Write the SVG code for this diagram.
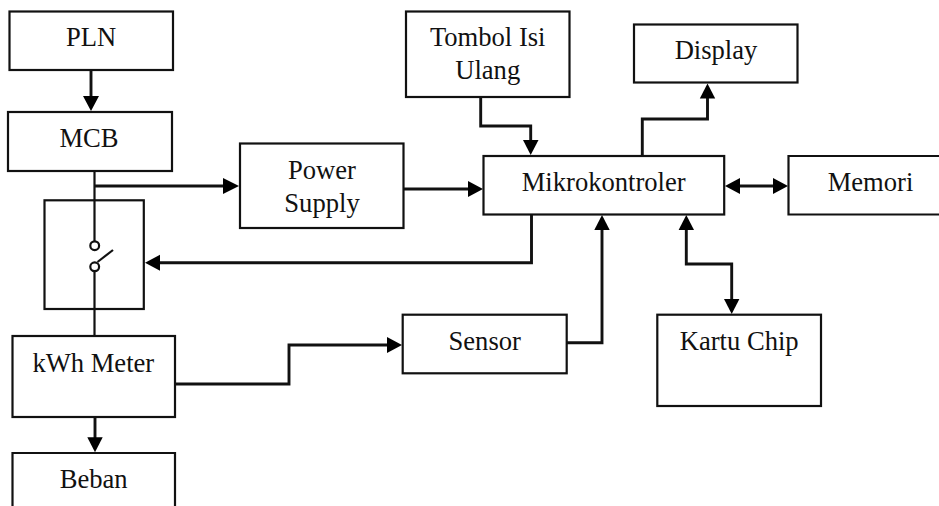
<svg xmlns="http://www.w3.org/2000/svg" width="939" height="506" viewBox="0 0 939 506">
<style>
.b{fill:#fff;stroke:#111;stroke-width:2.2}
.c{fill:none;stroke:#111;stroke-width:2.9}
.t{fill:none;stroke:#111;stroke-width:2.2}
.h{fill:#000}
text{font-family:"Liberation Serif","Times New Roman",serif;font-size:26.6px;fill:#111;text-anchor:middle}
</style>
<rect width="939" height="506" fill="#fff"/>
<g id="connectors">
<path class="t" d="M94.500 171V241M94.500 271V336"/>
<path class="c" d="M91 70V98"/><polygon class="h" points="83,96 99,96 91,111"/>
<path class="c" d="M95 186H225"/><polygon class="h" points="223,178 223,194 239,186"/>
<path class="c" d="M404 189H470"/><polygon class="h" points="468,181 468,197 483,189"/>
<path class="c" d="M480.700 97V126H530.700V142"/><polygon class="h" points="523,140 538.500,140 530.700,155"/>
<path class="c" d="M642.300 156V119H707.500V96"/><polygon class="h" points="699.800,98.500 715.200,98.500 707.500,83.500"/>
<path class="c" d="M738 186H774"/><polygon class="h" points="740,178 740,194 725,186"/><polygon class="h" points="773,178 773,194 788,186"/>
<path class="c" d="M531.500 214V262.700H158"/><polygon class="h" points="160,254.700 160,270.700 145,262.700"/>
<path class="c" d="M175 384H289V345H388"/><polygon class="h" points="387,337 387,353 402,345"/>
<path class="c" d="M567 342.700H602V228"/><polygon class="h" points="594.300,230 609.700,230 602,215"/>
<path class="c" d="M686.300 228V264H731.700V301"/><polygon class="h" points="678.600,230 694,230 686.300,215"/><polygon class="h" points="724,299 739.400,299 731.700,314"/>
<path class="c" d="M95 417V439"/><polygon class="h" points="87.300,437.300 102.700,437.300 95,452.300"/>
</g>
<g id="pln"><rect class="b" x="9.500" y="11.500" width="163.500" height="58.500"/><text x="91" y="46">PLN</text></g>
<g id="mcb"><rect class="b" x="8" y="112" width="164" height="59"/><text x="89" y="147">MCB</text></g>
<g id="switch"><rect x="44.500" y="200.300" width="99.300" height="108.700" fill="none" stroke="#111" stroke-width="2.200"/>
<circle class="b" cx="94.700" cy="245.700" r="4.400"/><circle class="b" cx="94.700" cy="266.800" r="4.400"/><path class="t" d="M97.500 262L113 250"/></g>
<g id="kwh"><rect class="b" x="12.500" y="336" width="162.500" height="81"/><text x="93.300" y="372">kWh Meter</text></g>
<g id="beban"><path class="t" d="M12.500 506V453H175V506"/><text x="93.700" y="487.700">Beban</text></g>
<g id="power"><rect class="b" x="240" y="143.500" width="163.500" height="84.500"/><text x="322" y="179">Power</text><text x="322" y="211.700">Supply</text></g>
<g id="tombol"><rect class="b" x="406" y="11.500" width="163.500" height="85.500"/><text x="487.700" y="45.700">Tombol Isi</text><text x="487.700" y="79.300">Ulang</text></g>
<g id="display"><rect class="b" x="634" y="24.500" width="163.500" height="58"/><text x="716" y="59.300">Display</text></g>
<g id="mikro"><rect class="b" x="483.500" y="156" width="240.700" height="58.500"/><text x="603.700" y="191">Mikrokontroler</text></g>
<g id="memori"><path class="t" d="M939 156H788.500V214.500H939"/><text x="870.500" y="190.700">Memori</text></g>
<g id="sensor"><rect class="b" x="402.700" y="314.700" width="164" height="58.600"/><text x="484.700" y="350">Sensor</text></g>
<g id="kartu"><rect class="b" x="657.300" y="314.700" width="163.700" height="91.300"/><text x="739.200" y="350">Kartu Chip</text></g>
</svg>
